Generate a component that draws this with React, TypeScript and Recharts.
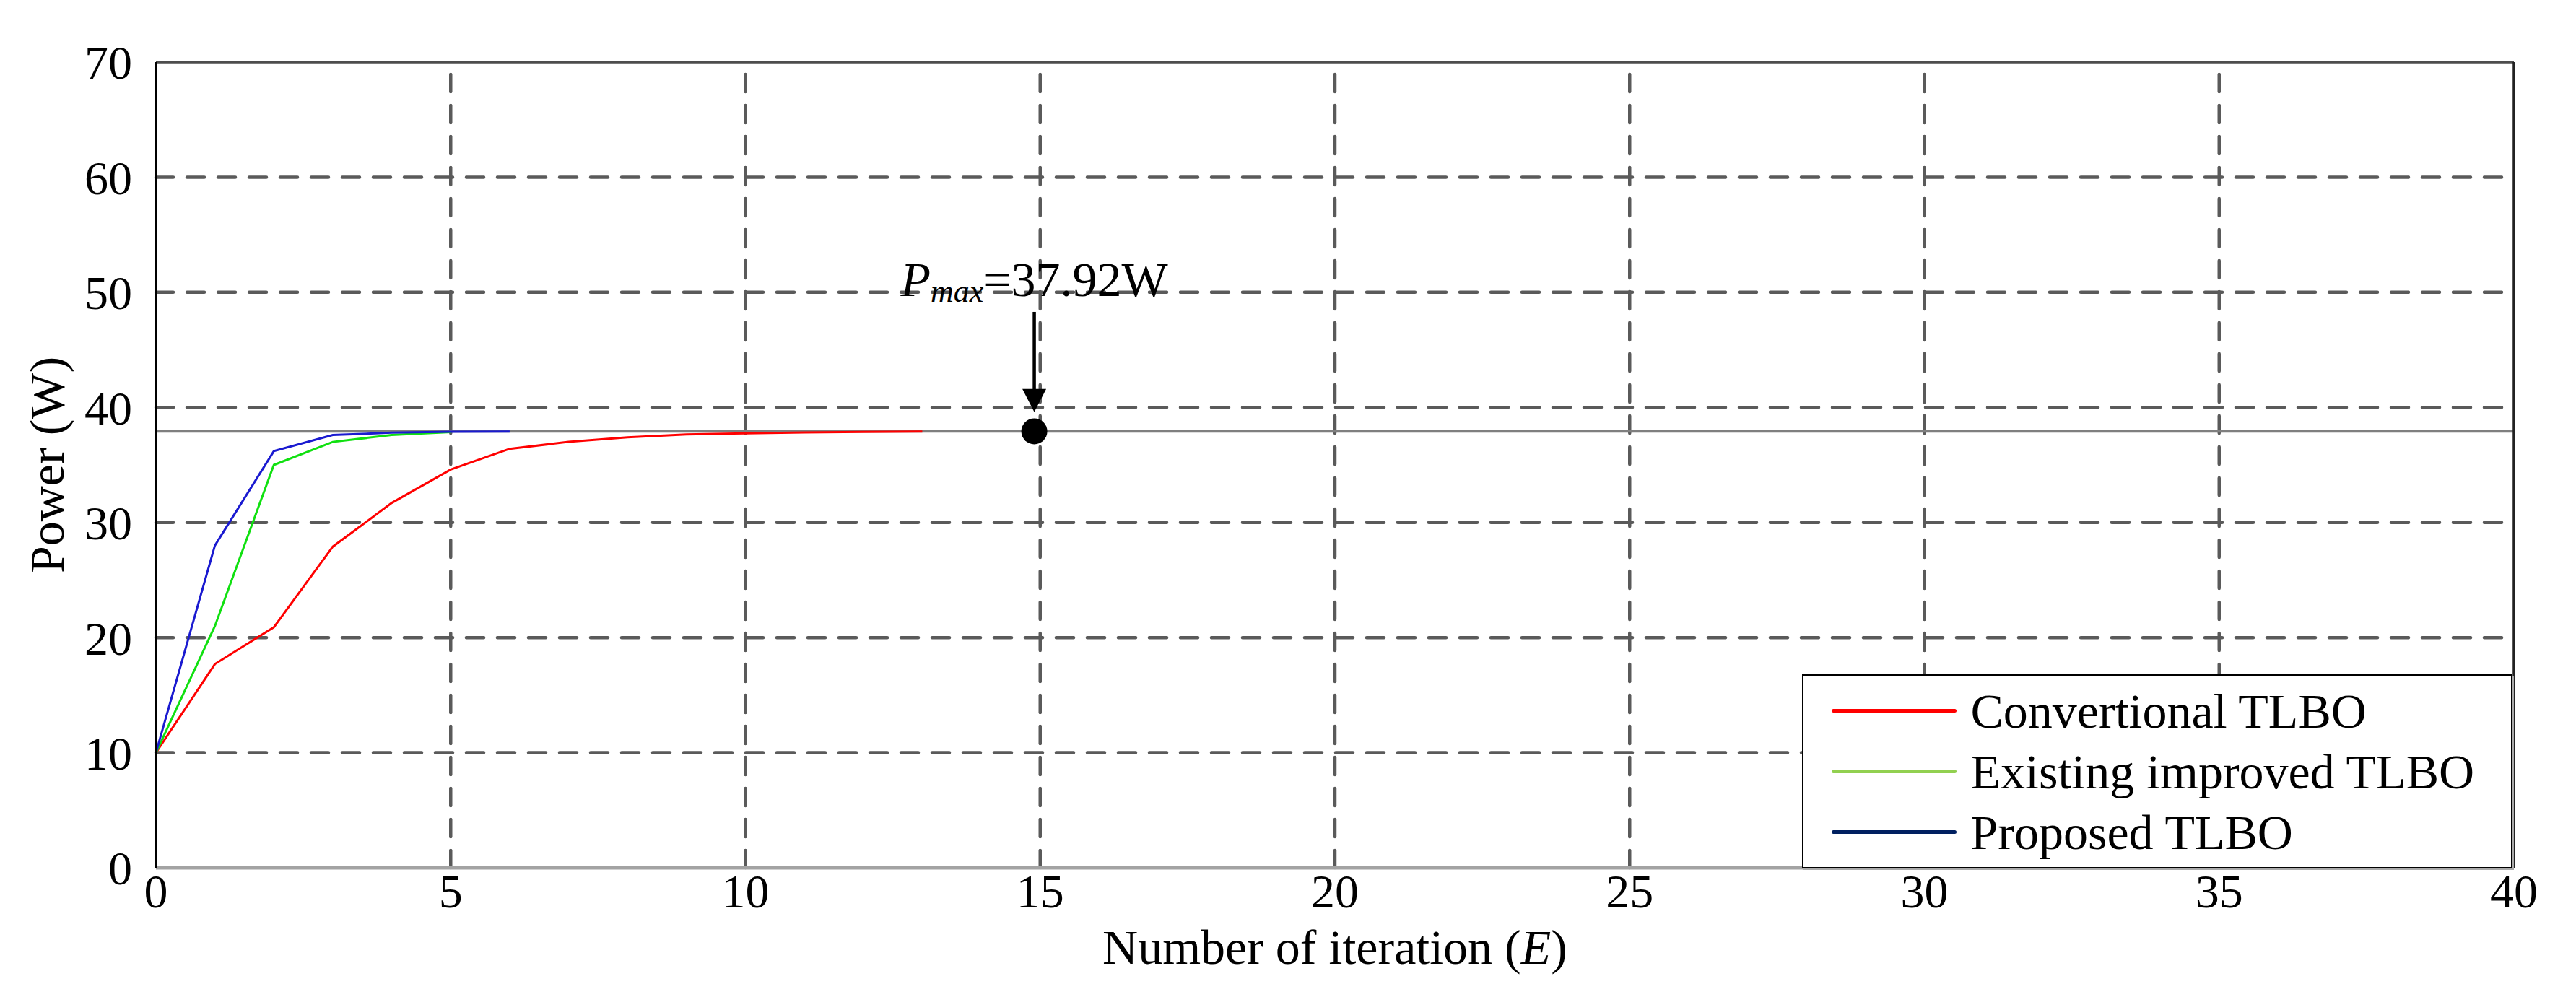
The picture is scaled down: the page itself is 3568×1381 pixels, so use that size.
import React from "react";
import {
    LineChart,
    Line,
    XAxis,
    YAxis,
    ReferenceLine,
    ReferenceDot,
    Legend,
    Label,
} from "recharts";

const SERIF = "'Liberation Serif', 'Times New Roman', Times, serif";

// iteration index and power (W) of each method
const iterations = [0, 1, 2, 3, 4, 5, 6, 7, 8, 9, 10, 11, 12, 13];
const conventionalTLBO = [10, 17.7, 20.9, 27.9, 31.7, 34.6, 36.4, 37.0, 37.4, 37.65, 37.75, 37.82, 37.87, 37.9];
const existingTLBO = [10, 21.0, 35.0, 37.0, 37.6, 37.85, null, null, null, null, null, null, null, null];
const proposedTLBO = [10, 28.0, 36.2, 37.6, 37.8, 37.88, 37.9, null, null, null, null, null, null, null];

const seriesNames = ["Convertional TLBO", "Existing improved TLBO", "Proposed TLBO"];

const xTicks = [0, 5, 10, 15, 20, 25, 30, 35, 40];
const yTicks = [0, 10, 20, 30, 40, 50, 60, 70];
const xGrid = [5, 10, 15, 20, 25, 30, 35];
const yGrid = [10, 20, 30, 40, 50, 60];

// Pmax annotation
const pmaxValue = 37.92;
const pmaxIteration = 14.9;
const arrowFrom = 48.3;
const arrowTo = 39.6;
const labelLevel = 49.7;

const lineColors = ["#ff0000", "#10e010", "#1a1ad0"];
const legendColors = ["#ff0000", "#92d050", "#002060"];

const chartData = iterations.map((iter, i) => ({
    iter,
    conventional: conventionalTLBO[i],
    existing: existingTLBO[i],
    proposed: proposedTLBO[i],
}));

const gridStyle = {
    stroke: "#5a5a5a",
    strokeWidth: 4.5,
    strokeDasharray: "24 19",
    strokeLinecap: "round" as const,
};

const XTitle = (props: any) => {
    const { x, y, width } = props.viewBox;
    return (
        <text x={x + width / 2} y={y + 133} textAnchor="middle" fontFamily={SERIF} fontSize={68} fill="#000">
            Number of iteration (<tspan fontStyle="italic">E</tspan>)
        </text>
    );
};

const YTitle = (props: any) => {
    const { x, y, height } = props.viewBox;
    const cx = x + 88;
    const cy = y + height / 2;
    return (
        <text x={cx} y={cy} transform={`rotate(-90, ${cx}, ${cy})`} textAnchor="middle" fontFamily={SERIF} fontSize={68} fill="#000">
            Power (W)
        </text>
    );
};

const ArrowShape = (props: any) => {
    const { x1, y1, x2, y2 } = props;
    const top = Math.min(y1, y2);
    const tip = Math.max(y1, y2);
    const head = 32;
    const half = 16.5;
    return (
        <g>
            <line x1={x1} y1={top} x2={x2} y2={tip - head + 2} stroke="#000" strokeWidth={4.5} />
            <polygon points={`${x2 - half},${tip - head} ${x2 + half},${tip - head} ${x2},${tip}`} fill="#000" />
        </g>
    );
};

const PmaxLabel = (props: any) => (
    <text x={props.cx} y={props.cy} textAnchor="middle" fontFamily={SERIF} fontSize={68} fill="#000">
        <tspan fontStyle="italic">P</tspan>
        <tspan fontStyle="italic" fontSize={44} dy={8}>max</tspan>
        <tspan dy={-8}>=37.92W</tspan>
    </text>
);

const LegendBox = () => (
    <div
        style={{
            boxSizing: "border-box",
            width: 984,
            height: 269,
            border: "2.5px solid #000",
            background: "#fff",
            paddingTop: 6.5,
            boxShadow: "2px 2px 0 #aaa",
            fontFamily: SERIF,
        }}
    >
        {seriesNames.map((name, i) => (
            <div key={name} style={{ display: "flex", alignItems: "center", height: 84, paddingLeft: 38.5 }}>
                <div style={{ width: 173, height: 5, borderRadius: 3, background: legendColors[i] }} />
                <span style={{ marginLeft: 20, fontSize: 68, lineHeight: "84px", color: "#000", whiteSpace: "nowrap" }}>
                    {name}
                </span>
            </div>
        ))}
    </div>
);

export default function App() {
    return (
        <div style={{ position: "absolute", left: 0, top: 0, width: 3568, height: 1381, background: "#fff" }}>
            <LineChart width={3568} height={1381} data={chartData} margin={{ top: 86, right: 86, bottom: 0, left: 0 }}>
                <XAxis
                    dataKey="iter"
                    type="number"
                    domain={[0, 40]}
                    ticks={xTicks}
                    height={179}
                    tickLine={false}
                    tickSize={0}
                    tickMargin={8}
                    axisLine={{ stroke: "#a3a3a3", strokeWidth: 5 }}
                    tick={{ fill: "#000", fontSize: 66, fontFamily: SERIF }}
                >
                    <Label content={XTitle} />
                </XAxis>
                <YAxis
                    type="number"
                    domain={[0, 70]}
                    ticks={yTicks}
                    width={216}
                    tickLine={false}
                    tickSize={0}
                    tickMargin={33}
                    axisLine={{ stroke: "#000", strokeWidth: 2 }}
                    tick={{ fill: "#000", fontSize: 66, fontFamily: SERIF }}
                >
                    <Label content={YTitle} />
                </YAxis>

                {yGrid.map((v) => (
                    <ReferenceLine key={`gy-${v}`} y={v} {...gridStyle} zIndex={-100} />
                ))}
                {xGrid.map((v) => (
                    <ReferenceLine key={`gx-${v}`} x={v} {...gridStyle} zIndex={-100} />
                ))}
                <ReferenceLine y={70} stroke="#4d4d4d" strokeWidth={3.5} />
                <ReferenceLine x={40} stroke="#222" strokeWidth={3.5} />
                <ReferenceLine y={pmaxValue} stroke="#7f7f7f" strokeWidth={3.5} zIndex={-50} />

                <Line type="linear" dataKey="conventional" name={seriesNames[0]} stroke={lineColors[0]} strokeWidth={3} dot={false} isAnimationActive={false} />
                <Line type="linear" dataKey="existing" name={seriesNames[1]} stroke={lineColors[1]} strokeWidth={3} dot={false} isAnimationActive={false} />
                <Line type="linear" dataKey="proposed" name={seriesNames[2]} stroke={lineColors[2]} strokeWidth={3} dot={false} isAnimationActive={false} />

                <ReferenceLine
                    segment={[
                        { x: pmaxIteration, y: arrowFrom },
                        { x: pmaxIteration, y: arrowTo },
                    ]}
                    shape={ArrowShape}
                />
                <ReferenceDot x={pmaxIteration} y={pmaxValue} r={18} fill="#000" stroke="none" />
                <ReferenceDot x={pmaxIteration} y={labelLevel} r={1} shape={PmaxLabel} />

                <Legend
                    layout="vertical"
                    align="center"
                    verticalAlign="middle"
                    content={<LegendBox />}
                    wrapperStyle={{ left: 2496, top: 934, width: 984, height: 269 }}
                />
            </LineChart>
        </div>
    );
}
